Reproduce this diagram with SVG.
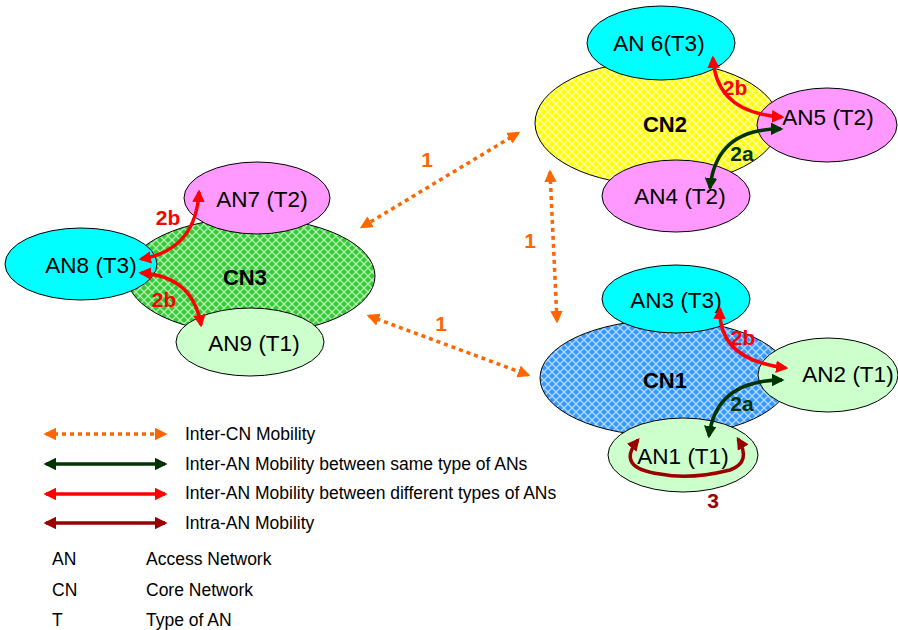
<svg xmlns="http://www.w3.org/2000/svg" width="898" height="630" viewBox="0 0 898 630">
<style>
.an{stroke:#000;stroke-width:1}
.cn{stroke:#000;stroke-width:1}
.lbl{font-family:"Liberation Sans",Arial,sans-serif;font-size:22.5px;fill:#000;text-anchor:middle}
.cnl{font-family:"Liberation Sans",Arial,sans-serif;font-size:22px;font-weight:bold;fill:#000;text-anchor:middle}
.num{font-family:"Liberation Sans",Arial,sans-serif;font-size:21px;font-weight:bold;text-anchor:middle}
.leg{font-family:"Liberation Sans",Arial,sans-serif;font-size:17.5px;fill:#000}
.c{fill:none;stroke-width:3.5}
.or{stroke:#ff6600;stroke-dasharray:4 4;marker-start:url(#mo);marker-end:url(#mo)}
.gr{stroke:#003300;marker-start:url(#mg);marker-end:url(#mg)}
.rd{stroke:#ff0000;marker-start:url(#mr);marker-end:url(#mr)}
.dr{stroke:#990000;marker-start:url(#md);marker-end:url(#md)}
</style>
<defs>
<pattern id="py" width="8" height="8" patternUnits="userSpaceOnUse"><rect width="8" height="8" fill="#ffff00"/><path d="M0,4 L4,0 L8,4 L4,8 Z" fill="none" stroke="#ffffb0" stroke-width="1.3"/></pattern>
<pattern id="pg" width="8" height="8" patternUnits="userSpaceOnUse"><rect width="8" height="8" fill="#33cc33"/><path d="M0,4 L4,0 L8,4 L4,8 Z" fill="none" stroke="#b8f0b8" stroke-width="1.3"/></pattern>
<pattern id="pb" width="8" height="8" patternUnits="userSpaceOnUse"><rect width="8" height="8" fill="#3399ff"/><path d="M0,4 L4,0 L8,4 L4,8 Z" fill="none" stroke="#b8dcff" stroke-width="1.3"/></pattern>
<marker id="mo" viewBox="0 0 10 10" refX="8" refY="5" markerWidth="3.6" markerHeight="3.6" orient="auto-start-reverse"><path d="M0,0 L10,5 L0,10 Z" fill="#ff6600"/></marker>
<marker id="mg" viewBox="0 0 10 10" refX="8" refY="5" markerWidth="3.6" markerHeight="3.6" orient="auto-start-reverse"><path d="M0,0 L10,5 L0,10 Z" fill="#003300"/></marker>
<marker id="mr" viewBox="0 0 10 10" refX="8" refY="5" markerWidth="3.6" markerHeight="3.6" orient="auto-start-reverse"><path d="M0,0 L10,5 L0,10 Z" fill="#ff0000"/></marker>
<marker id="md" viewBox="0 0 10 10" refX="8" refY="5" markerWidth="3.6" markerHeight="3.6" orient="auto-start-reverse"><path d="M0,0 L10,5 L0,10 Z" fill="#990000"/></marker>
</defs>
<rect width="898" height="630" fill="#fff"/>

<g id="CN2"><ellipse class="cn" cx="657" cy="123" rx="122" ry="62" fill="url(#py)"/><text class="cnl" x="665" y="132">CN2</text></g>
<g id="AN6"><ellipse class="an" cx="661" cy="43" rx="74" ry="37" fill="#00ffff"/><text class="lbl" x="659" y="51">AN 6(T3)</text></g>
<g id="AN5"><ellipse class="an" cx="827" cy="125" rx="70" ry="37" fill="#ff99ff"/><text class="lbl" x="828" y="125">AN5 (T2)</text></g>
<g id="AN4"><ellipse class="an" cx="676" cy="196" rx="74" ry="36" fill="#ff99ff"/><text class="lbl" x="680" y="204">AN4 (T2)</text></g>

<g id="CN3"><ellipse class="cn" cx="251" cy="276" rx="124" ry="58" fill="url(#pg)"/><text class="cnl" x="245" y="285">CN3</text></g>
<g id="AN7"><ellipse class="an" cx="257" cy="198" rx="73" ry="36" fill="#ff99ff"/><text class="lbl" x="262" y="207">AN7 (T2)</text></g>
<g id="AN8"><ellipse class="an" cx="81" cy="264" rx="76" ry="36" fill="#00ffff"/><text class="lbl" x="91" y="273">AN8 (T3)</text></g>
<g id="AN9"><ellipse class="an" cx="250" cy="342" rx="74" ry="34" fill="#ccffcc"/><text class="lbl" x="254" y="351">AN9 (T1)</text></g>

<g id="CN1"><ellipse class="cn" cx="665" cy="378" rx="125" ry="58" fill="url(#pb)"/><text class="cnl" x="665" y="388">CN1</text></g>
<g id="AN3"><ellipse class="an" cx="676" cy="299" rx="74" ry="34" fill="#00ffff"/><text class="lbl" x="676" y="308">AN3 (T3)</text></g>
<g id="AN2"><ellipse class="an" cx="828" cy="375" rx="70" ry="37" fill="#ccffcc"/><text class="lbl" x="848" y="382">AN2 (T1)</text></g>
<g id="AN1"><ellipse class="an" cx="683" cy="455" rx="75" ry="37" fill="#ccffcc"/><text class="lbl" x="683" y="464">AN1 (T1)</text></g>

<g id="connectors">
<path class="c or" d="M518,133 L362,227"/>
<path class="c or" d="M550,172 L557,321"/>
<path class="c or" d="M369,316 L528,375"/>
<path class="c rd" d="M713,58 Q716,113 782,117"/>
<path class="c gr" d="M781,129 Q716,128 710,188"/>
<path class="c rd" d="M199,192 Q196,250 141,259"/>
<path class="c rd" d="M141,273 Q193,276 201,325"/>
<path class="c rd" d="M720,309 Q718,360 786,368"/>
<path class="c gr" d="M782,380 Q716,380 709,436"/>
<path class="c dr" d="M638,440 Q615,468 660,474 Q690,480 730,470 Q752,462 738,439"/>
<text class="num" x="427" y="167" fill="#ff6600">1</text>
<text class="num" x="530" y="248" fill="#ff6600">1</text>
<text class="num" x="441" y="331" fill="#ff6600">1</text>
<text class="num" x="735" y="95" fill="#ff0000">2b</text>
<text class="num" x="742" y="161" fill="#003300">2a</text>
<text class="num" x="168" y="225" fill="#ff0000">2b</text>
<text class="num" x="164" y="307" fill="#ff0000">2b</text>
<text class="num" x="743" y="345" fill="#ff0000">2b</text>
<text class="num" x="742" y="411" fill="#003300">2a</text>
<text class="num" x="713" y="508" fill="#990000">3</text>
</g>

<g id="legend">
<path class="c or" d="M46,434 L165,434"/>
<path class="c gr" d="M46,464 L165,464"/>
<path class="c rd" d="M46,494 L165,494"/>
<path class="c dr" d="M46,523 L165,523"/>
<text class="leg" x="185" y="440">Inter-CN Mobility</text>
<text class="leg" x="185" y="470">Inter-AN Mobility between same type of ANs</text>
<text class="leg" x="185" y="499">Inter-AN Mobility between different types of ANs</text>
<text class="leg" x="185" y="529">Intra-AN Mobility</text>
<text class="leg" x="52" y="565">AN</text>
<text class="leg" x="146" y="565">Access Network</text>
<text class="leg" x="52" y="596">CN</text>
<text class="leg" x="146" y="596">Core Network</text>
<text class="leg" x="52" y="626">T</text>
<text class="leg" x="146" y="626">Type of AN</text>
</g>
</svg>
